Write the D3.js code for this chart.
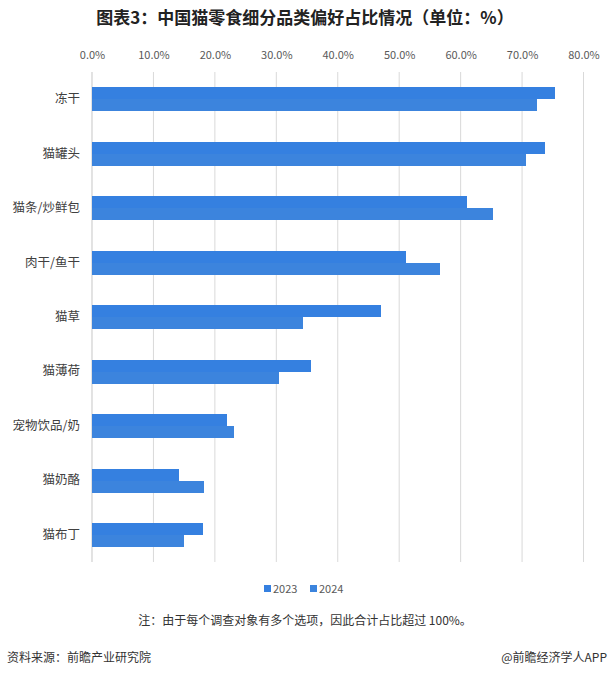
<!DOCTYPE html>
<html>
<head>
<meta charset="utf-8">
<script src="https://cdn.jsdelivr.net/npm/d3@7"></script>
<style>
body { margin: 0; background: #fff; }
svg text { font-family: "Noto Sans CJK SC", "Noto Sans", sans-serif; }
</style>
</head>
<body>
<svg></svg>
<script>
const categories = ["冻干", "猫罐头", "猫条/炒鲜包", "肉干/鱼干", "猫草", "猫薄荷", "宠物饮品/奶", "猫奶酪", "猫布丁"];
const years = ["2023", "2024"];
const values2023 = [75.4, 73.7, 61.1, 51.1, 47.1, 35.7, 22.0, 14.1, 18.0];
const values2024 = [72.5, 70.6, 65.2, 56.7, 34.4, 30.5, 23.1, 18.2, 14.9];
const ticks = [0, 10, 20, 30, 40, 50, 60, 70, 80];

const size = { w: 611, h: 677 };
const margin = { t: 72, r: 28, b: 115, l: 92 };
const colors = ["#3580e0", "#3c84dd"];

const svg = d3.select("svg").attr("width", size.w).attr("height", size.h);

const data = categories.map((c, i) => ({ cat: c, vals: [values2023[i], values2024[i]] }));

const xScale = d3.scaleLinear().domain([0, 80]).range([margin.l, 583.5]);
const yScale = d3.scaleBand().domain(categories).range([margin.t, size.h - margin.b]).paddingInner(0.53).paddingOuter(0.265);
const subScale = d3.scaleBand().domain(years).range([0, yScale.bandwidth()]).round(true);

// title
svg.append("text")
	.attr("x", 305).attr("y", 24)
	.attr("text-anchor", "middle")
	.attr("font-size", 17).attr("font-weight", "bold")
	.attr("fill", "#222")
	.text("图表3：中国猫零食细分品类偏好占比情况（单位：%）");

// gridlines
svg.append("g")
	.selectAll("line")
	.data(ticks)
	.join("line")
	.attr("x1", (d) => xScale(d)).attr("x2", (d) => xScale(d))
	.attr("y1", margin.t).attr("y2", size.h - margin.b)
	.attr("stroke", "#d9d9d9").attr("stroke-width", 1);

// top axis labels
const xAxis = d3.axisTop(xScale).tickValues(ticks).tickFormat((d) => d.toFixed(1) + "%").tickSize(0).tickPadding(0);
const xAxisG = svg.append("g").attr("transform", "translate(0, 59)").call(xAxis);
xAxisG.select(".domain").remove();
xAxisG.selectAll("text").attr("font-size", 11).attr("fill", "#595959");

// left axis line + labels
svg.append("line")
	.attr("x1", margin.l).attr("x2", margin.l)
	.attr("y1", margin.t).attr("y2", size.h - margin.b)
	.attr("stroke", "#d9d9d9");
const yAxis = d3.axisLeft(yScale).tickSize(0).tickPadding(12);
const yAxisG = svg.append("g").attr("transform", `translate(${margin.l}, 0)`).call(yAxis);
yAxisG.select(".domain").remove();
yAxisG.selectAll("text").attr("font-size", 12.5).attr("fill", "#404040");

// bars
const groups = svg.append("g")
	.attr("shape-rendering", "crispEdges")
	.selectAll("g")
	.data(data)
	.join("g")
	.attr("transform", (d) => `translate(0, ${Math.round(yScale(d.cat))})`);
groups.selectAll("rect")
	.data((d) => d.vals.map((v, i) => ({ year: years[i], v: v, i: i })))
	.join("rect")
	.attr("x", xScale(0))
	.attr("y", (d) => subScale(d.year))
	.attr("width", (d) => xScale(d.v) - xScale(0))
	.attr("height", subScale.bandwidth())
	.attr("fill", (d) => colors[d.i]);

// legend
const legend = svg.append("g").attr("transform", "translate(264, 589)");
years.forEach((y, i) => {
	legend.append("rect")
		.attr("x", i * 46).attr("y", -4)
		.attr("width", 7).attr("height", 7)
		.attr("fill", colors[i]);
	legend.append("text")
		.attr("x", i * 46 + 9).attr("y", 4)
		.attr("font-size", 11).attr("fill", "#595959")
		.text(y);
});

// note
svg.append("text")
	.attr("x", 305).attr("y", 625)
	.attr("text-anchor", "middle")
	.attr("font-size", 12).attr("fill", "#333")
	.text("注：由于每个调查对象有多个选项，因此合计占比超过 100%。");

// footer
svg.append("text")
	.attr("x", 7).attr("y", 662)
	.attr("font-size", 12).attr("fill", "#333")
	.text("资料来源：前瞻产业研究院");
svg.append("text")
	.attr("x", 607).attr("y", 662)
	.attr("text-anchor", "end")
	.attr("font-size", 12).attr("fill", "#333")
	.text("@前瞻经济学人APP");
</script>
</body>
</html>
